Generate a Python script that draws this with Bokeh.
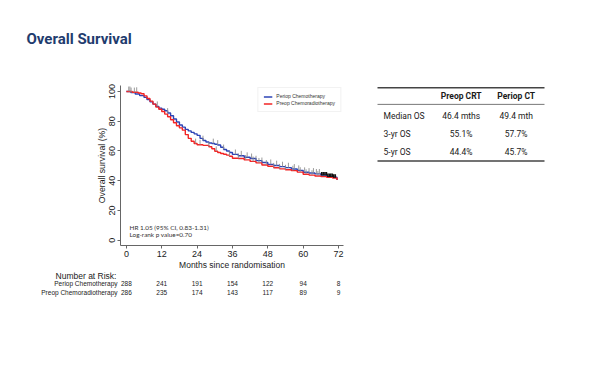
import numpy as np
from bokeh.plotting import figure
from bokeh.layouts import column, row
from bokeh.models import Legend, LegendItem, FixedTicker, Range1d
from bokeh.core.properties import value
from bokeh.embed import file_html
from bokeh.resources import INLINE

# ---------------- data ----------------
title_text = "Overall Survival"

# Kaplan-Meier steps: Periop Chemotherapy (blue)
ct_t = [0, 1.5, 3, 4.5, 6, 7, 8, 9, 10, 11, 12, 13, 14, 15, 16, 17, 18, 19, 20, 21, 22,
        23, 24, 25, 26, 27, 28, 29, 30, 31, 32, 33, 34, 35, 36, 38, 40, 42, 44, 46, 48,
        50, 52, 54, 56, 58, 60, 62, 64, 66, 68, 70, 71.5]
ct_s = [100, 99.3, 98.3, 97.2, 96, 94.5, 93, 91.5, 90, 88.8, 88, 87, 85.5, 83.7, 81.5,
        79.5, 77.5, 76, 74.5, 73.5, 72.5, 71.5, 70.5, 68.5, 67, 66, 65.4, 65, 64.5, 64,
        62.5, 61, 60, 59, 57.7, 56.8, 55.8, 55, 53.5, 52.3, 51, 50.2, 49.5, 48.8, 47.9,
        47, 45.7, 45.2, 44.6, 43.9, 42.8, 42.4, 40.5]

# Kaplan-Meier steps: Preop Chemoradiotherapy (red)
crt_t = [0, 2, 4, 5, 6, 7, 8, 9, 10, 11, 12, 13, 14, 15, 16, 17, 18, 19, 20, 21, 22, 23,
         24, 26, 28, 29, 30, 31, 32, 33, 34, 35, 36, 38, 40, 42, 44, 46, 48, 50, 52, 54,
         56, 58, 60, 62, 64, 66, 68, 70, 71.5]
crt_s = [100, 99.5, 99, 98.5, 97, 95.3, 93.5, 91.5, 89.5, 88, 86.5, 84.8, 83, 81, 79,
         77, 75.5, 74, 71, 68.5, 66.5, 65, 64.2, 63.8, 62.8, 61.5, 59.8, 59, 58.3, 57.8,
         57.2, 56.5, 55.1, 55, 54, 53, 52, 50.6, 49.7, 48.7, 48, 47.4, 46.8, 45.8, 44.4,
         43.8, 43.2, 42.8, 42.3, 41.9, 40.5]

# censoring times
ct_cens = [0.8, 1.6, 2.7, 10.5, 14, 26, 29.5, 31, 33, 37, 39, 41, 42.5, 44, 46, 49, 51,
           53, 55, 57, 58.5, 60.5, 62, 63.5, 64.5, 65.5]
crt_cens = [1.2, 3.5, 23.5, 25, 28, 30.5, 35, 38, 40.5, 43, 45, 47.5, 50, 52, 54, 56.5,
            59, 61, 63, 65]
late_cens = [66.3, 66.8, 67.4, 67.9, 68.4, 68.9, 69.4, 69.9, 70.4, 70.9]

series_names = ["Periop Chemotherapy", "Preop Chemoradiotherapy"]
x_ticks = [0, 12, 24, 36, 48, 60, 72]
y_ticks = [0, 20, 40, 60, 80, 100]
risk_ct = [288, 241, 191, 154, 122, 94, 8]
risk_crt = [286, 235, 174, 143, 117, 89, 9]
stats_lines = ["HR 1.05 (95% CI, 0.83-1.31)", "Log-rank p value=0.70"]

table_header = ["Preop CRT", "Periop CT"]
table_rows = ["Median OS", "3-yr OS", "5-yr OS"]
table_crt = ["46.4 mths", "55.1%", "44.4%"]
table_ct = ["49.4 mth", "57.7%", "45.7%"]

# ---------------- layout (page pixels) ----------------
W, H = 600, 365
TOP_H = 70            # title strip
MID_H = 202           # km + table strip
KM_W = 353
FL, FT, FW, FH = 120, 85, 223, 161      # km frame in page pixels
XR = (-2.0, 73.7)
YR = (-3.5, 104.0)
MPX = (XR[1] - XR[0]) / FW               # months per pixel
B_TOP = FT - TOP_H
B_BOT = MID_H - B_TOP - FH

BLUE = "#2d44b6"
RED = "#f22424"
NAVY = "#1f3c6e"
SANS = "Liberation Sans"
TAB = "Roboto"
INK = "#1a1a1a"


def blank(width, height, xr, yr, **kw):
    f = figure(width=width, height=height, x_range=Range1d(*xr), y_range=Range1d(*yr),
               output_backend="svg", toolbar_location=None, x_axis_type=None,
               y_axis_type=None, title=None, **kw)
    f.outline_line_color = None
    f.xgrid.grid_line_color = None
    f.ygrid.grid_line_color = None
    return f


def txt(f, xs, ys, texts, size, font=SANS, align="left", style="normal", color=INK):
    f.text(x=xs, y=ys, text=texts, text_font=value(font), text_font_size=value(size),
           text_font_style=style, text_color=color, text_baseline="middle",
           text_align=align)


# ---- title strip ----
pt = blank(W, TOP_H, (0, W), (TOP_H, 0), min_border=0)
txt(pt, [26], [38.5], [title_text], "15px", font="Roboto", style="bold", color=NAVY)

# ---- KM plot ----
p = figure(width=KM_W, height=MID_H, x_range=XR, y_range=YR, output_backend="svg",
           toolbar_location=None, title=None, min_border_left=FL, min_border_top=B_TOP,
           min_border_right=KM_W - FL - FW, min_border_bottom=B_BOT)
p.outline_line_color = None
p.xgrid.grid_line_color = None
p.ygrid.grid_line_color = None

for ax in (p.xaxis[0], p.yaxis[0]):
    ax.axis_line_color = "#666666"
    ax.major_tick_line_color = "#666666"
    ax.major_tick_out = 3
    ax.major_tick_in = 0
    ax.minor_tick_line_color = None
    ax.major_label_text_font = SANS
    ax.major_label_text_font_size = "9px"
    ax.major_label_text_color = "#222222"
    ax.major_label_standoff = 2
    ax.axis_label_text_font = SANS
    ax.axis_label_text_font_style = "normal"
    ax.axis_label_text_color = "#222222"
    ax.axis_label_standoff = 0

p.xaxis.ticker = FixedTicker(ticks=x_ticks)
p.yaxis.ticker = FixedTicker(ticks=y_ticks)
p.yaxis.major_label_orientation = "vertical"
p.xaxis.axis_label = "Months since randomisation"
p.yaxis.axis_label = "Overall survival (%)"
p.xaxis.axis_label_text_font_size = "8.5px"
p.yaxis.axis_label_text_font_size = "8.7px"

r_ct = p.step(ct_t, ct_s, mode="after", line_color=BLUE, line_width=1.4)
r_crt = p.step(crt_t, crt_s, mode="after", line_color=RED, line_width=1.4)


def surv_at(times, surv, tc):
    idx = np.searchsorted(np.array(times), np.array(tc), side="right") - 1
    return np.array(surv)[idx]


for times, surv, cens in ((ct_t, ct_s, ct_cens), (crt_t, crt_s, crt_cens)):
    sv = surv_at(times, surv, cens)
    p.segment(x0=cens, y0=sv, x1=cens, y1=sv + 3.3, line_color="#8e8e8e", line_width=0.9)
sv_late = surv_at(ct_t, ct_s, late_cens)
p.segment(x0=late_cens, y0=sv_late - 0.3, x1=late_cens, y1=sv_late + 2.0,
          line_color="#111111", line_width=1.6)

legend = Legend(items=[LegendItem(label=series_names[0], renderers=[r_ct]),
                       LegendItem(label=series_names[1], renderers=[r_crt])],
                location="top_right")
legend.margin = 2
legend.padding = 5
legend.spacing = 1
legend.glyph_width = 9
legend.glyph_height = 5
legend.label_height = 5
legend.label_standoff = 4
legend.label_text_font = SANS
legend.label_text_font_size = "5px"
legend.label_text_color = "#333333"
legend.border_line_color = "#e6e6e6"
legend.border_line_width = 1
legend.background_fill_alpha = 1
p.add_layout(legend)


def ky(py):
    return YR[0] + (FT + FH - py) * (YR[1] - YR[0]) / FH


def kx(px):
    return XR[0] + (px - FL) * MPX


txt(p, [kx(129), kx(129)], [ky(228), ky(234.7)], stats_lines, "6.4px", font="Lato",
    color="#333333")

# ---- table (frame aligned with the KM frame rows) ----
tb = blank(W - KM_W, MID_H, (KM_W, W), (FT + FH, FT), min_border_left=0,
           min_border_right=0, min_border_top=B_TOP, min_border_bottom=B_BOT)
col_x = [383, 460.7, 515.7]
row_mid = [115.7, 134.0, 152.3]
txt(tb, col_x[1:], [96, 96], table_header, "8.5px", font=TAB, align="center", style="bold")
txt(tb, [col_x[0]] * 3, row_mid, table_rows, "8.5px", font=TAB)
txt(tb, [col_x[1]] * 3, row_mid, table_crt, "8.5px", font=TAB, align="center")
txt(tb, [col_x[2]] * 3, row_mid, table_ct, "8.5px", font=TAB, align="center")
tb.segment(x0=[377, 377], y0=[87.3, 161.0], x1=[544, 544], y1=[87.3, 161.0],
           line_color="#444444", line_width=1.6)
tb.segment(x0=[377], y0=[104.0], x1=[544], y1=[104.0], line_color="#555555", line_width=0.8)

# ---- number at risk ----
y0 = TOP_H + MID_H
pr = blank(W, H - y0, (XR[0] - FL * MPX, XR[0] + (W - FL) * MPX), (H, y0), min_border=0)
txt(pr, [kx(85.5)], [275.3], ["Number at Risk:"], "8.5px", align="center", color="#222222")
for name, counts, mid in ((series_names[0], risk_ct, 283.3),
                          (series_names[1], risk_crt, 291.7)):
    txt(pr, [kx(117)], [mid], [name], "6.5px", align="right", color="#222222")
    txt(pr, x_ticks, [mid] * len(counts), [str(n) for n in counts], "6.5px",
        align="center", color="#222222")

layout = column(pt, row(p, tb), pr)
open("out.html", "w").write(file_html(layout, INLINE))
